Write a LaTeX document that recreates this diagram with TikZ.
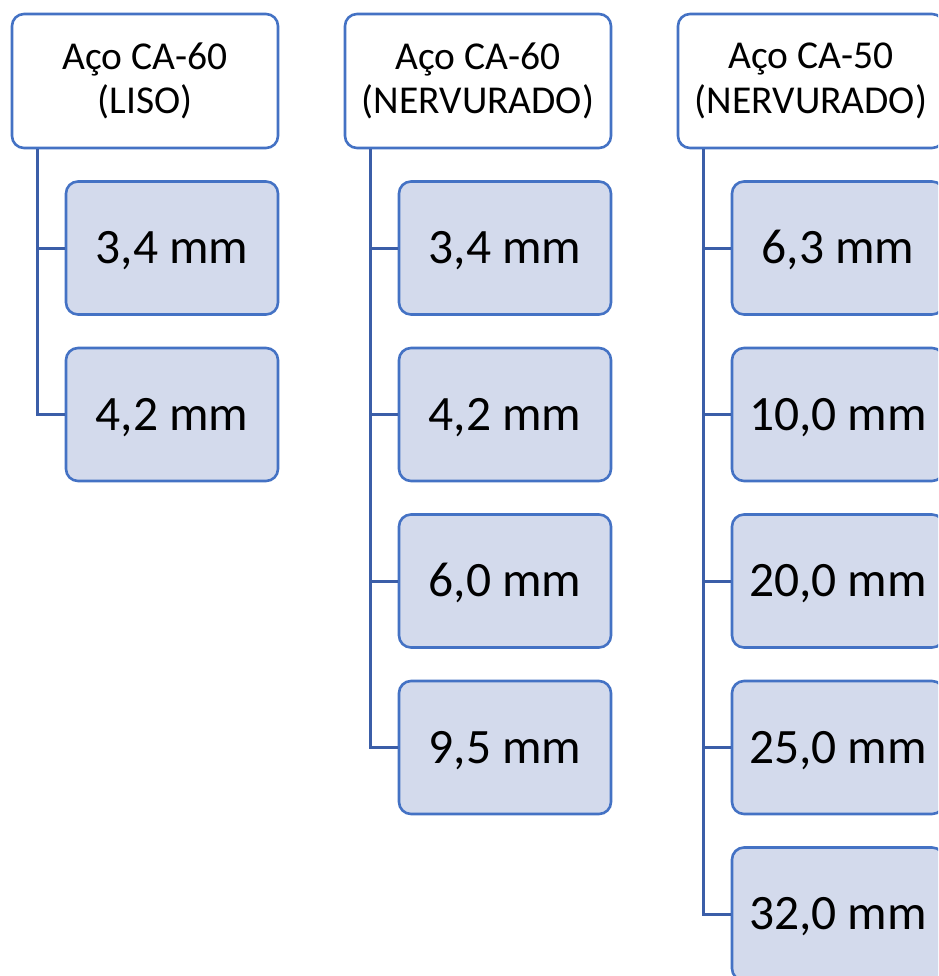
\documentclass[tikz,border=0pt]{standalone}
\usepackage{fontspec}
\setmainfont{Carlito}
\definecolor{boxblue}{HTML}{4472C4}
\definecolor{linkblue}{HTML}{3B5EA8}
\definecolor{childfill}{HTML}{D3DAEC}
\begin{document}
\begin{tikzpicture}[x=1pt,y=-1pt,
  head/.style={draw=boxblue,line width=2.6pt,fill=white,rounded corners=12pt,
    minimum width=266pt,minimum height=134pt,inner sep=0pt,align=center,
    font=\fontsize{39.5}{44.5}\selectfont},
  child/.style={draw=boxblue,line width=2.6pt,fill=childfill,rounded corners=12pt,
    minimum width=212pt,minimum height=133pt,inner sep=0pt,
    text height=31pt,text depth=0pt,
    font=\fontsize{49.5}{58}\selectfont},
  conn/.style={draw=linkblue,line width=3pt}]
\useasboundingbox (0,0) rectangle (938,976);
\clip (0,0) rectangle (938,976);
% column 1
\node[head] (h1) at (145,81) {Aço CA-60\\(LISO)};
\node[child] (a1) at (172,248) {3,4 mm};
\node[child] (a2) at (172,414.5) {4,2 mm};
% column 2
\node[head] (h2) at (478,81) {Aço CA-60\\(NERVURADO)};
\node[child] (b1) at (505,248) {3,4 mm};
\node[child] (b2) at (505,414.5) {4,2 mm};
\node[child] (b3) at (505,581) {6,0 mm};
\node[child] (b4) at (505,747.5) {9,5 mm};
% column 3
\node[head] (h3) at (811,81) {Aço CA-50\\(NERVURADO)};
\node[child] (c1) at (838,248) {6,3 mm};
\node[child] (c2) at (838,414.5) {10,0 mm};
\node[child] (c3) at (838,581) {20,0 mm};
\node[child] (c4) at (838,747.5) {25,0 mm};
\node[child] (c5) at (838,914) {32,0 mm};
% connectors
\foreach \c in {a1,a2} \draw[conn] ([xshift=27pt]h1.south west) |- (\c.west);
\foreach \c in {b1,b2,b3,b4} \draw[conn] ([xshift=27pt]h2.south west) |- (\c.west);
\foreach \c in {c1,c2,c3,c4,c5} \draw[conn] ([xshift=27pt]h3.south west) |- (\c.west);
\end{tikzpicture}
\end{document}
